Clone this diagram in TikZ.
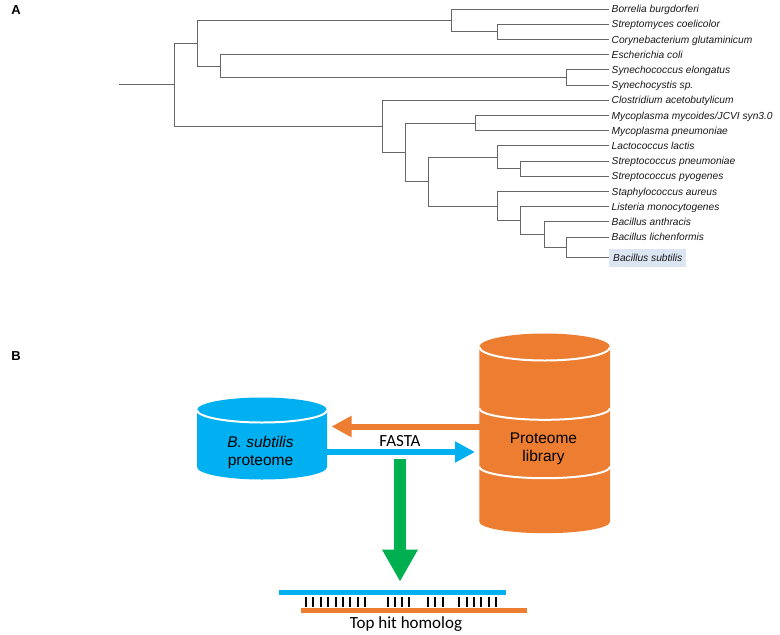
\documentclass[tikz,border=0pt]{standalone}
\usepackage{fontspec}
\setmainfont{Liberation Sans}
\newfontfamily\calibrifont{Carlito}
\usetikzlibrary{arrows.meta,calc}
\definecolor{cblue}{HTML}{00B0F0}
\definecolor{corange}{HTML}{ED7D31}
\definecolor{cgreen}{HTML}{00B050}
\definecolor{hl}{HTML}{DCE6F2}
\definecolor{treegray}{HTML}{666666}
\begin{document}
\begin{tikzpicture}[x=1pt,y=-1pt,
  branch/.style={draw=treegray,line width=0.9pt},
  leaf/.style={anchor=west,inner xsep=2.5pt,inner ysep=0pt,text height=7.3pt,text depth=0pt,
    font=\fontsize{10.2}{12}\selectfont\itshape,text=black!90},
  panel/.style={font=\fontsize{13}{15}\selectfont\bfseries,inner sep=0pt},
  cyltext/.style={anchor=base,inner sep=0pt,font=\fontsize{15.5}{18}\selectfont},
  caltext/.style={anchor=base,inner sep=0pt,font=\calibrifont\fontsize{17}{20}\selectfont},
  whiteline/.style={draw=white,line width=2pt},
  fatarrow/.style={line width=6pt,-{Triangle[length=20pt,width=20pt]}}
]
\useasboundingbox (0,0) rectangle (780,635);

% ---------- panel labels ----------
\node[panel] (pA) at (16,10) {A};
\node[panel] (pB) at (16,356) {B};

% ---------- tree: leaves ----------
\node[leaf] (l0)  at (609,9.0)   {Borrelia burgdorferi};
\node[leaf] (l1)  at (609,24.2)  {Streptomyces coelicolor};
\node[leaf] (l2)  at (609,39.4)  {Corynebacterium glutaminicum};
\node[leaf] (l3)  at (609,54.6)  {Escherichia coli};
\node[leaf] (l4)  at (609,69.8)  {Synechococcus elongatus};
\node[leaf] (l5)  at (609,85.0)  {Synechocystis sp.};
\node[leaf] (l6)  at (609,100.2) {Clostridium acetobutylicum};
\node[leaf] (l7)  at (609,115.4) {Mycoplasma mycoides/JCVI syn3.0};
\node[leaf] (l8)  at (609,130.6) {Mycoplasma pneumoniae};
\node[leaf] (l9)  at (609,145.8) {Lactococcus lactis};
\node[leaf] (l10) at (609,161.0) {Streptococcus pneumoniae};
\node[leaf] (l11) at (609,176.2) {Streptococcus pyogenes};
\node[leaf] (l12) at (609,191.4) {Staphylococcus aureus};
\node[leaf] (l13) at (609,206.6) {Listeria monocytogenes};
\node[leaf] (l14) at (609,221.8) {Bacillus anthracis};
\node[leaf] (l15) at (609,237.0) {Bacillus lichenformis};
\node[leaf,fill=hl,inner xsep=4pt,minimum height=18pt] (l16) at (609,257.6) {Bacillus subtilis};

% ---------- tree: internal nodes ----------
\coordinate (stub) at (119,84.7);
\coordinate (nR)  at (174,84.7);
\coordinate (nA)  at (197.3,43.2);
\coordinate (nA1) at (451.7,20.4);
\coordinate (nS)  at (497.7,31.8);
\coordinate (nA2) at (220.7,66.0);
\coordinate (nSy) at (566.7,77.4);
\coordinate (nB)  at (382.3,126.25);
\coordinate (nC)  at (405.3,152.3);
\coordinate (nM)  at (475.0,123.0);
\coordinate (nD)  at (428.3,181.6);
\coordinate (nE)  at (497.7,157.2);
\coordinate (nF)  at (520.3,168.6);
\coordinate (nG)  at (497.7,206.0);
\coordinate (nH)  at (520.3,220.6);
\coordinate (nI)  at (544.3,234.55);
\coordinate (nJ)  at (566.7,247.3);

\draw[branch] (stub) -- (nR);
\draw[branch] (nR) |- (nA);
\draw[branch] (nR) |- (nB);
\draw[branch] (nA) |- (nA1);
\draw[branch] (nA) |- (nA2);
\draw[branch] (nA1) |- (l0.west);
\draw[branch] (nA1) |- (nS);
\draw[branch] (nS) |- (l1.west);
\draw[branch] (nS) |- (l2.west);
\draw[branch] (nA2) |- (l3.west);
\draw[branch] (nA2) |- (nSy);
\draw[branch] (nSy) |- (l4.west);
\draw[branch] (nSy) |- (l5.west);
\draw[branch] (nB) |- (l6.west);
\draw[branch] (nB) |- (nC);
\draw[branch] (nC) |- (nM);
\draw[branch] (nC) |- (nD);
\draw[branch] (nM) |- (l7.west);
\draw[branch] (nM) |- (l8.west);
\draw[branch] (nD) |- (nE);
\draw[branch] (nD) |- (nG);
\draw[branch] (nE) |- (l9.west);
\draw[branch] (nE) |- (nF);
\draw[branch] (nF) |- (l10.west);
\draw[branch] (nF) |- (l11.west);
\draw[branch] (nG) |- (l12.west);
\draw[branch] (nG) |- (nH);
\draw[branch] (nH) |- (l13.west);
\draw[branch] (nH) |- (nI);
\draw[branch] (nI) |- (l14.west);
\draw[branch] (nI) |- (nJ);
\draw[branch] (nJ) |- (l15.west);
\draw[branch] (nJ) |- (l16.west);

% ---------- panel B: arrows ----------
\coordinate (oS) at (484,426.5);
\coordinate (oE) at (331.5,426.5);
\coordinate (bS) at (318,452);
\coordinate (bE) at (475,452);
\coordinate (gS) at (400,459);
\coordinate (gE) at (400,581.7);
\draw[fatarrow,draw=corange,fill=corange] (oS) -- (oE);
\draw[fatarrow,draw=cblue,fill=cblue] (bS) -- (bE);
\draw[line width=12pt,draw=cgreen,-{Triangle[length=32pt,width=33.4pt,fill=cgreen]}] (gS) -- (gE);

% ---------- blue cylinder ----------
\fill[cblue] (197,410) -- (197,467) arc[start angle=180,end angle=0,x radius=65,y radius=12.5]
  -- (327,410) arc[start angle=0,end angle=-180,x radius=65,y radius=12.5] -- cycle;
\draw[whiteline] (197,410) arc[start angle=180,end angle=0,x radius=65,y radius=12.5];

% ---------- orange cylinder ----------
\fill[corange] (479.3,347) -- (479.3,521.7) arc[start angle=180,end angle=0,x radius=65.35,y radius=11.5]
  -- (610,347) arc[start angle=0,end angle=-180,x radius=65.35,y radius=13.5] -- cycle;
\draw[whiteline] (479.3,347) arc[start angle=180,end angle=0,x radius=65.35,y radius=13.5];
\draw[whiteline] (479.3,408.3) arc[start angle=180,end angle=0,x radius=65.35,y radius=11.5];
\draw[whiteline] (479.3,466.7) arc[start angle=180,end angle=0,x radius=65.35,y radius=11.5];

% ---------- texts ----------
\node[cyltext] (bsT) at (260.5,447.5) {\itshape B. subtilis};
\node[cyltext] (bsP) at (260.5,465.3) {proteome};
\node[cyltext] (plP) at (543.5,443.6) {Proteome};
\node[cyltext] (plL) at (543.5,461.8) {library};
\node[caltext] (fasta) at (400,446) {FASTA};

% ---------- alignment ----------
\coordinate (blA) at (279.3,592.3);
\coordinate (blB) at (506,592.3);
\coordinate (orA) at (300.7,610.7);
\coordinate (orB) at (527.3,610.7);
\draw[cblue,line width=5pt] (blA) -- (blB);
\draw[corange,line width=5pt] (orA) -- (orB);
\foreach \tx in {306,313.3,321,328.3,335.7,342.7,350.3,357.7,365,388.3,395,402.3,409.3,427.7,435.3,442.7,459.3,466.7,474,481.3,488.7,496}
  \draw[black,line width=2pt] (\tx,597.3) -- (\tx,606.7);
\node[caltext] (thh) at (406,628.7) {Top hit homolog};
\end{tikzpicture}
\end{document}
